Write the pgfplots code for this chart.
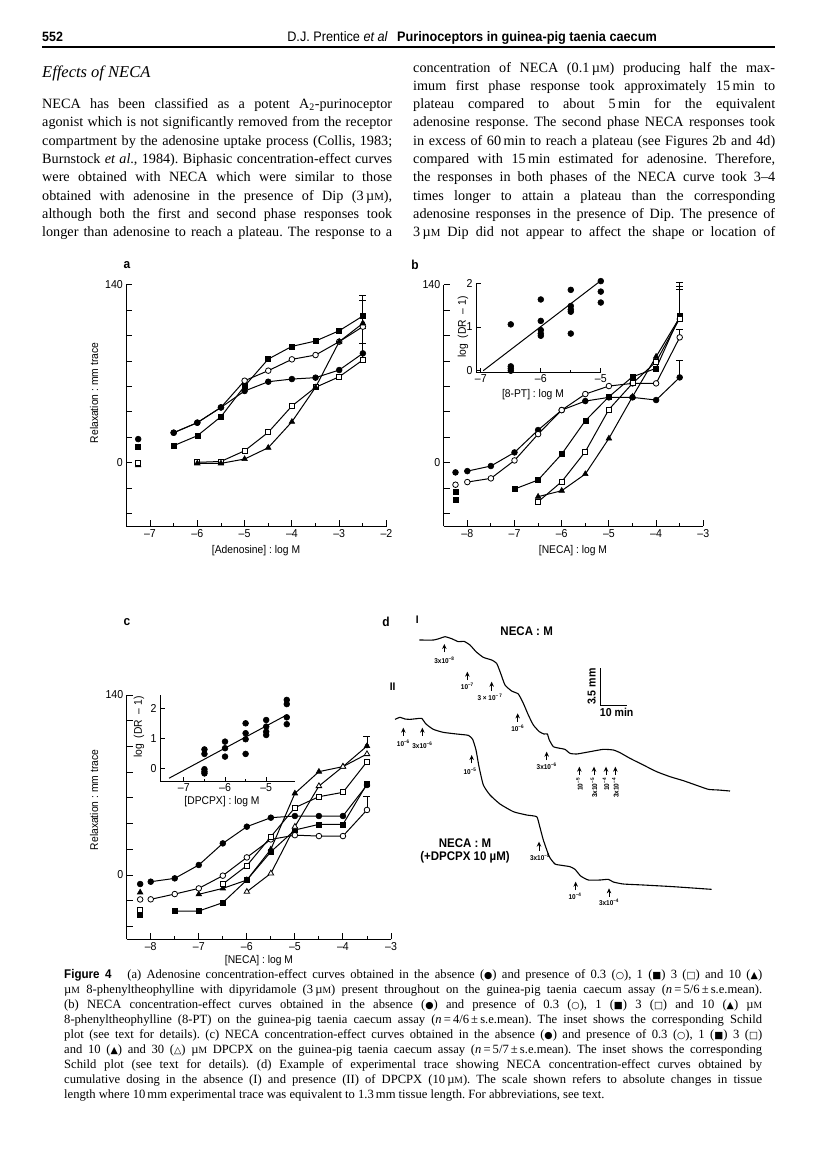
\documentclass[border=0pt]{standalone}
\usepackage{pgfplots}
\pgfplotsset{compat=1.18}
\usepackage{fontspec}
\usetikzlibrary{arrows.meta}
\setmainfont{Liberation Serif}
\newfontfamily\hel[FakeStretch=0.92]{Liberation Sans}
\newfontfamily\sym{DejaVu Sans}
\frenchspacing
\newcommand\bodyf{\fontsize{14.2}{17}\selectfont}
\newcommand\capf{\fontsize{12.6}{15}\selectfont}
\newcommand\tickf{\hel\fontsize{11.5}{12}\selectfont}
\newcommand\labf{\hel\fontsize{11.2}{12}\selectfont}
\newcommand\tinyf{\hel\bfseries\fontsize{7}{8}\selectfont}
\newcommand\uMb{µ{\fontsize{10.8}{12}\selectfont M}}
\newcommand\uMc{µ{\fontsize{9.6}{12}\selectfont M}}
\newcommand\sy[1]{{\sym\fontsize{9.5}{10}\selectfont #1}}
\newcommand\J[4]{\node[anchor=base west,inner sep=0pt] at (#1,#2) {\frenchspacing\makebox[#3pt][s]{#4}};}
\newcommand\N[3]{\node[anchor=base west,inner sep=0pt] at (#1,#2) {\frenchspacing #3};}
\newcommand\sups[1]{\textsuperscript{#1}}

\pgfplotsset{
  base/.style={scale only axis, axis lines=left, axis line style={-, line width=1pt},
    tick style={black, line width=0.9pt}, tick align=inside,
    major tick length=6pt, minor tick length=3.5pt,
    ticklabel style={font=\tickf}, clip=false},
  sfc/.style={black, line width=1pt, mark=*, mark size=2.9pt, mark options={solid, fill=black, line width=0.6pt}},
  soc/.style={black, line width=1pt, mark=*, mark size=2.8pt, mark options={solid, fill=white, line width=0.8pt}},
  sfs/.style={black, line width=1pt, mark=square*, mark size=2.5pt, mark options={solid, fill=black, line width=0.6pt}},
  sos/.style={black, line width=1pt, mark=square*, mark size=2.5pt, mark options={solid, fill=white, line width=0.8pt}},
  sft/.style={black, line width=1pt, mark=triangle*, mark size=3.2pt, mark options={solid, fill=black, line width=0.6pt}},
  sot/.style={black, line width=1pt, mark=triangle*, mark size=3.2pt, mark options={solid, fill=white, line width=0.8pt}},
  errb/.style={black, only marks, mark=none, error bars/.cd, y dir=plus, y explicit,
     error bar style={line width=0.8pt}, error mark options={rotate=90, mark size=3.5pt, line width=0.8pt}},
  inset/.style={base, major tick length=5pt, minor tick length=3pt, xticklabel style={yshift=2pt}},
}

\begin{document}
\begin{tikzpicture}[x=1pt,y=-1pt]
\fill[white] (0,0) rectangle (816,1167);
\path[use as bounding box] (0,0) rectangle (816,1167);

% ---------- header ----------
\node[anchor=base west,inner sep=0pt,font=\hel\bfseries\fontsize{13.5}{14}\selectfont] at (42,41.5) {552};
\node[anchor=base east,inner sep=0pt,font=\hel\fontsize{13.8}{14}\selectfont] at (388,41.5) {D.J. Prentice \textit{et al}};
\node[anchor=base west,inner sep=0pt,font=\hel\bfseries\fontsize{13.8}{14}\selectfont] at (397,41.5) {Purinoceptors in guinea-pig taenia caecum};
\draw[line width=1.1pt] (42,47) -- (775,47);

% ---------- body text ----------
\node[anchor=base west,inner sep=0pt,font=\fontsize{16.5}{17}\selectfont\itshape] at (42,77) {Effects of NECA};
\begin{scope}[font=\bodyf]
\J{42}{108.6}{350}{NECA has been classified as a potent A\textsubscript{2}-purinoceptor}
\J{42}{126.9}{350}{agonist which is not significantly removed from the receptor}
\J{42}{145.2}{350}{compartment by the adenosine uptake process (Collis, 1983;}
\J{42}{163.5}{350}{Burnstock \textit{et al}., 1984). Biphasic concentration-effect curves}
\J{42}{181.8}{350}{were obtained with NECA which were similar to those}
\J{42}{200.1}{350}{obtained with adenosine in the presence of Dip (3\,\uMb),}
\J{42}{218.4}{350}{although both the first and second phase responses took}
\J{42}{236.7}{350}{longer than adenosine to reach a plateau. The response to a}
\J{413}{72.0}{362}{concentration of NECA (0.1\,\uMb) producing half the max-}
\J{413}{90.3}{362}{imum first phase response took approximately 15\,min to}
\J{413}{108.6}{362}{plateau compared to about 5\,min for the equivalent}
\J{413}{126.9}{362}{adenosine response. The second phase NECA responses took}
\J{413}{145.2}{362}{in excess of 60\,min to reach a plateau (see Figures 2b and 4d)}
\J{413}{163.5}{362}{compared with 15\,min estimated for adenosine. Therefore,}
\J{413}{181.8}{362}{the responses in both phases of the NECA curve took 3--4}
\J{413}{200.1}{362}{times longer to attain a plateau than the corresponding}
\J{413}{218.4}{362}{adenosine responses in the presence of Dip. The presence of}
\J{413}{236.7}{362}{3\,\uMb{} Dip did not appear to affect the shape or location of}
\end{scope}

% ---------- panel labels ----------
\begin{scope}[font=\hel\bfseries\fontsize{13}{14}\selectfont]
\node at (127,265) {a};
\node at (415,265) {b};
\node at (127,622) {c};
\node at (386,622) {d};
\end{scope}

% ---------- axis labels ----------
\begin{scope}[font=\labf]
\node[rotate=90] at (94,393) {Relaxation : mm trace};
\node[rotate=90] at (94,800) {Relaxation : mm trace};
\node at (256,551) {[Adenosine] : log M};
\node at (573,551) {[NECA] : log M};
\node at (259,961) {[NECA] : log M};
\node[rotate=90] at (463,327) {log \ (DR \ – 1)};
\node at (533,395) {[8-PT] : log M};
\node[rotate=90] at (139,727) {log \ (DR \ – 1)};
\node at (222,802) {[DPCPX] : log M};
\end{scope}

% ================= panel a =================
\begin{axis}[base, at={(126.35pt,-526.3pt)}, anchor=south west, width=260.15pt, height=241.6pt,
  xmin=-7.5,xmax=-2,ymin=-50,ymax=140,
  xtick={-7,-6,-5,-4,-3,-2}, xticklabels={–7,–6,–5,–4,–3,–2},
  minor xtick={-6.5,-5.5,-4.5,-3.5,-2.5},
  ytick={-40,-20,0,20,40,60,80,100,120,140}, yticklabels={,,0,,,,,,,140}]
\addplot[errb] coordinates {(-2.5,115.4) +- (0,16) (-2.5,109.6) +- (0,18.4) (-2.5,80.8) +- (0,25) (-2.5,86) +- (0,8)};
\addplot[soc] coordinates {(-6.5,23.6) (-6,31.5) (-5.5,43.5) (-5,64.5) (-4.5,72.4) (-4,81.3) (-3.5,84.7) (-3,95.2) (-2.5,107)};
\addplot[sfc] coordinates {(-6.5,23.6) (-6,31.5) (-5.5,43.5) (-5,56.4) (-4.5,63.7) (-4,65.8) (-3.5,66.9) (-3,72.9) (-2.5,86)};
\addplot[sfs] coordinates {(-6.5,13.4) (-6,21.2) (-5.5,36.2) (-5,60.3) (-4.5,81.5) (-4,91.5) (-3.5,95.7) (-3,103.8) (-2.5,115.4)};
\addplot[sos] coordinates {(-6,0.3) (-5.5,1) (-5,9.4) (-4.5,23.9) (-4,44.6) (-3.5,59.3) (-3,67.6) (-2.5,80.8)};
\addplot[sft] coordinates {(-6,-0.5) (-5.5,-0.5) (-5,2.9) (-4.5,11.8) (-4,32.2) (-3.5,59.3) (-3,95.2) (-2.5,109.6)};
\addplot[sfc, only marks] coordinates {(-7.25,18.6)};
\addplot[sfs, only marks] coordinates {(-7.25,12.8)};
\addplot[sft, only marks] coordinates {(-7.25,-2)};
\addplot[sos, only marks] coordinates {(-7.25,0)};
\end{axis}

% ================= panel b =================
\begin{axis}[base, at={(443.7pt,-526.3pt)}, anchor=south west, width=259.6pt, height=241.6pt,
  xmin=-8.5,xmax=-3,ymin=-50,ymax=140,
  xtick={-8,-7,-6,-5,-4,-3}, xticklabels={–8,–7,–6,–5,–4,–3},
  minor xtick={-7.5,-6.5,-5.5,-4.5,-3.5},
  ytick={-40,-20,0,20,40,60,80,100,120,140}, yticklabels={,,0,,,,,,,140}]
\addplot[errb] coordinates {(-3.5,67.1) +- (0,13) (-3.5,98.6) +- (0,6.3) (-3.5,115.4) +- (0,21) (-3.5,113.5) +- (0,25.5) (-3.5,114.3) +- (0,27.3)};
\addplot[sfc] coordinates {(-8,-6.6) (-7.5,-2.6) (-7,8.1) (-6.5,25.7) (-6,41.4) (-5.5,48.5) (-5,51.4) (-4.5,51.4) (-4,49.3) (-3.5,67.1)};
\addplot[soc] coordinates {(-8,-15.2) (-7.5,-12.3) (-7,1.8) (-6.5,22.5) (-6,41.4) (-5.5,54) (-5,60.3) (-4.5,62.4) (-4,62.4) (-3.5,98.6)};
\addplot[sfs] coordinates {(-7,-20.7) (-6.5,-13.6) (-6,6.8) (-5.5,33) (-5,51.9) (-4.5,67.6) (-4,74.2) (-3.5,115.4)};
\addplot[sft] coordinates {(-6.5,-26.7) (-6,-22) (-5.5,-8.9) (-5,19.1) (-4.5,51.9) (-4,83.4) (-3.5,114.3)};
\addplot[sos] coordinates {(-6.5,-30.7) (-6,-14.9) (-5.5,8.7) (-5,41.9) (-4.5,62.4) (-4,79.4) (-3.5,113.5)};
\addplot[sfc, only marks] coordinates {(-8.25,-7.6)};
\addplot[soc, only marks] coordinates {(-8.25,-17.3)};
\addplot[sfs, only marks] coordinates {(-8.25,-22.5) (-8.25,-29.4)};
\end{axis}

% inset b
\begin{axis}[inset, at={(476pt,-372.9pt)}, anchor=south west, width=124.8pt, height=89.6pt,
  xmin=-7.08,xmax=-5,ymin=-0.05,ymax=2,
  xtick={-7,-6,-5}, xticklabels={–7,–6,–5}, minor xtick={-6.5,-5.5},
  ytick={0,1,2}, yticklabels={0,1,2}]
\addplot[black, line width=1pt, mark=none] coordinates {(-6.96,0) (-5,2.06)};
\addplot[sfc, only marks] coordinates {
 (-6.5,1.06) (-6.5,0.1) (-6.5,0.05) (-6.5,0)
 (-6,1.63) (-6,1.14) (-6,0.93) (-6,0.85) (-6,0.8)
 (-5.5,1.85) (-5.5,1.48) (-5.5,1.4) (-5.5,1.35) (-5.5,0.85)
 (-5,2.05) (-5,1.81) (-5,1.56)};
\end{axis}

% ================= panel c =================
\begin{axis}[base, at={(126.7pt,-939.3pt)}, anchor=south west, width=264.3pt, height=244.3pt,
  xmin=-8.5,xmax=-3,ymin=-50,ymax=140,
  xtick={-8,-7,-6,-5,-4,-3}, xticklabels={–8,–7,–6,–5,–4,–3},
  minor xtick={-7.5,-6.5,-5.5,-4.5,-3.5},
  ytick={-40,-20,0,20,40,60,80,100,120,140}, yticklabels={,,0,,,,,,,140}]
\addplot[errb] coordinates {(-3.5,100.3) +- (0,7.8) (-3.5,50.6) +- (0,10.8)};
\addplot[sfc] coordinates {(-8,-5.2) (-7.5,-2.6) (-7,7.8) (-6.5,24.6) (-6,37.6) (-5.5,44.6) (-5,45.9) (-4.5,45.9) (-4,45.9) (-3.5,70)};
\addplot[soc] coordinates {(-8,-18.9) (-7.5,-14.8) (-7,-10.4) (-6.5,-0.5) (-6,13.7) (-5.5,27.7) (-5,31) (-4.5,30.3) (-4,30.3) (-3.5,50.6)};
\addplot[sfs] coordinates {(-7.5,-28) (-7,-28) (-6.5,-21.5) (-6,-3.9) (-5.5,18.1) (-5,35) (-4.5,39.4) (-4,39.4) (-3.5,70.8)};
\addplot[sft] coordinates {(-7,-15) (-6.5,-10.4) (-6,-3.9) (-5.5,20) (-5,63.5) (-4.5,80.4) (-4,84.3) (-3.5,100.3)};
\addplot[sos] coordinates {(-6.5,-7) (-6,7.3) (-5.5,29.8) (-5,52.4) (-4.5,60.9) (-4,64.3) (-3.5,88.1)};
\addplot[sot] coordinates {(-6,-13) (-5.5,1.3) (-5,37.6) (-4.5,69.2) (-4,84.3) (-3.5,94.1)};
\addplot[sfc, only marks] coordinates {(-8.22,-7)};
\addplot[sft, only marks] coordinates {(-8.22,-13.5)};
\addplot[soc, only marks] coordinates {(-8.22,-19)};
\addplot[sos, only marks] coordinates {(-8.22,-27)};
\addplot[sfs, only marks] coordinates {(-8.22,-30.6)};
\end{axis}

% inset c
\begin{axis}[inset, at={(160pt,-781.8pt)}, anchor=south west, width=135pt, height=86.7pt,
  xmin=-7.58,xmax=-4.3,ymin=-0.45,ymax=2.44,
  xtick={-7,-6,-5}, xticklabels={–7,–6,–5}, minor xtick={-6.5,-5.5},
  ytick={0,1,2}, yticklabels={0,1,2}]
\addplot[black, line width=1pt, mark=none] coordinates {(-7.36,-0.33) (-4.5,1.78)};
\addplot[sfc, only marks] coordinates {
 (-6.5,0.63) (-6.5,0.48) (-6.5,-0.03) (-6.5,-0.11) (-6.5,-0.17)
 (-6,0.89) (-6,0.67) (-6,0.39)
 (-5.5,1.5) (-5.5,1.17) (-5.5,0.97) (-5.5,0.48)
 (-5,1.61) (-5,1.39) (-5,1.22) (-5,1.11)
 (-4.5,2.28) (-4.5,2.14) (-4.5,1.7) (-4.5,1.47)};
\end{axis}

% ================= panel d (trace) =================
\begin{axis}[at={(390pt,-580pt)}, anchor=north west, scale only axis, width=340pt, height=340pt,
  xmin=0,xmax=1020,ymin=0,ymax=1020, y dir=reverse, hide axis, clip=false]
\addplot[black, line width=1.1pt, smooth, tension=0.3, mark=none] coordinates {
 (88,180) (130,180) (150,175) (165,170) (185,176) (205,185) (222,184) (240,195) (258,215)
 (280,232) (305,240) (320,250) (332,280) (345,315) (365,333) (385,342) (400,370) (415,405)
 (430,435) (448,455) (462,462) (472,462) (478,480) (490,500) (510,505) (525,508) (540,520)
 (560,522) (600,515) (640,508) (670,510) (690,518) (720,535) (760,555) (800,575) (840,590)
 (880,602) (920,616) (955,628) (985,630) (1020,633)};
\addplot[black, line width=1.1pt, smooth, tension=0.3, mark=none] coordinates {
 (15,418) (30,412) (45,417) (60,418) (80,416) (95,415) (108,432) (130,448) (160,457) (200,462)
 (235,466) (248,478) (258,510) (267,560) (280,615) (300,645) (330,672) (370,695) (410,705)
 (440,710) (448,735) (460,780) (478,830) (495,852) (515,856) (540,860) (555,868) (572,888)
 (595,900) (630,900) (655,898) (670,906) (700,912) (760,915) (850,920) (965,928)};
\begin{scope}[line width=1pt, -{Stealth[length=5pt,width=4.5pt]}]
\draw (axis cs:163,217) -- (axis cs:163,192);
\draw (axis cs:232,300) -- (axis cs:232,275);
\draw (axis cs:305,332) -- (axis cs:305,305);
\draw (axis cs:383,425) -- (axis cs:383,400);
\draw (axis cs:470,540) -- (axis cs:470,515);
\draw (axis cs:568,585) -- (axis cs:568,560);
\draw (axis cs:612,585) -- (axis cs:612,560);
\draw (axis cs:648,585) -- (axis cs:648,560);
\draw (axis cs:676,585) -- (axis cs:676,560);
\draw (axis cs:40,467) -- (axis cs:40,443);
\draw (axis cs:97,467) -- (axis cs:97,443);
\draw (axis cs:245,550) -- (axis cs:245,525);
\draw (axis cs:447,812) -- (axis cs:447,785);
\draw (axis cs:557,930) -- (axis cs:557,905);
\draw (axis cs:657,950) -- (axis cs:657,925);
\end{scope}
\begin{scope}[font=\tinyf, inner sep=1pt]
\node at (axis cs:163,242) {3x10\sups{–8}};
\node at (axis cs:232,320) {10\sups{–7}};
\node at (axis cs:300,352) {3 × 10\sups{– 7}};
\node at (axis cs:383,445) {10\sups{–6}};
\node at (axis cs:470,560) {3x10\sups{–6}};
\node[rotate=90, anchor=east] at (axis cs:568,590) {10\sups{–5}};
\node[rotate=90, anchor=east] at (axis cs:612,590) {3x10\sups{–5}};
\node[rotate=90, anchor=east] at (axis cs:648,590) {10\sups{–4}};
\node[rotate=90, anchor=east] at (axis cs:676,590) {3x10\sups{–4}};
\node at (axis cs:40,490) {10\sups{–6}};
\node at (axis cs:97,495) {3x10\sups{–6}};
\node at (axis cs:240,573) {10\sups{–5}};
\node at (axis cs:450,832) {3x10\sups{–5}};
\node at (axis cs:555,950) {10\sups{–4}};
\node at (axis cs:657,968) {3x10\sups{–4}};
\end{scope}
\draw[line width=1pt] (axis cs:632,265) -- (axis cs:632,375) -- (axis cs:712,375);
\node[font=\hel\bfseries\fontsize{11.5}{12}\selectfont, rotate=90] at (axis cs:605,320) {3.5 mm};
\node[font=\hel\bfseries\fontsize{11.5}{12}\selectfont] at (axis cs:680,398) {10 min};
\node[font=\hel\bfseries\fontsize{12.5}{13}\selectfont] at (axis cs:410,155) {NECA : M};
\node[font=\hel\bfseries\fontsize{12.5}{13}\selectfont, align=center] at (axis cs:225,812) {NECA : M\\(+DPCPX 10 µM)};
\node[font=\hel\bfseries\fontsize{11}{12}\selectfont] at (axis cs:82,118) {I};
\node[font=\hel\bfseries\fontsize{11}{12}\selectfont] at (axis cs:8,320) {II};
\end{axis}

% ---------- caption ----------
\begin{scope}[font=\capf]
\J{64}{978}{698}{{\hel\bfseries Figure 4}\ \ \ (a) Adenosine concentration-effect curves obtained in the absence (\sy{●}) and presence of 0.3 (\sy{○}), 1 (\sy{■}) 3 (\sy{□}) and 10 (\sy{▲})}
\J{64}{993}{698}{\uMc{} 8-phenyltheophylline with dipyridamole (3\,\uMc) present throughout on the guinea-pig taenia caecum assay (\textit{n}\,=\,5/6\,±\,s.e.mean).}
\J{64}{1008}{698}{(b) NECA concentration-effect curves obtained in the absence (\sy{●}) and presence of 0.3 (\sy{○}), 1 (\sy{■}) 3 (\sy{□}) and 10 (\sy{▲}) \uMc}
\J{64}{1023}{698}{8-phenyltheophylline (8-PT) on the guinea-pig taenia caecum assay (\textit{n}\,=\,4/6\,±\,s.e.mean). The inset shows the corresponding Schild}
\J{64}{1038}{698}{plot (see text for details). (c) NECA concentration-effect curves obtained in the absence (\sy{●}) and presence of 0.3 (\sy{○}), 1 (\sy{■}) 3 (\sy{□})}
\J{64}{1053}{698}{and 10 (\sy{▲}) and 30 (\sy{△}) \uMc{} DPCPX on the guinea-pig taenia caecum assay (\textit{n}\,=\,5/7\,±\,s.e.mean). The inset shows the corresponding}
\J{64}{1068}{698}{Schild plot (see text for details). (d) Example of experimental trace showing NECA concentration-effect curves obtained by}
\J{64}{1083}{698}{cumulative dosing in the absence (I) and presence (II) of DPCPX (10\,\uMc). The scale shown refers to absolute changes in tissue}
\N{64}{1098}{length where 10\,mm experimental trace was equivalent to 1.3\,mm tissue length. For abbreviations, see text.}
\end{scope}
\end{tikzpicture}
\end{document}
